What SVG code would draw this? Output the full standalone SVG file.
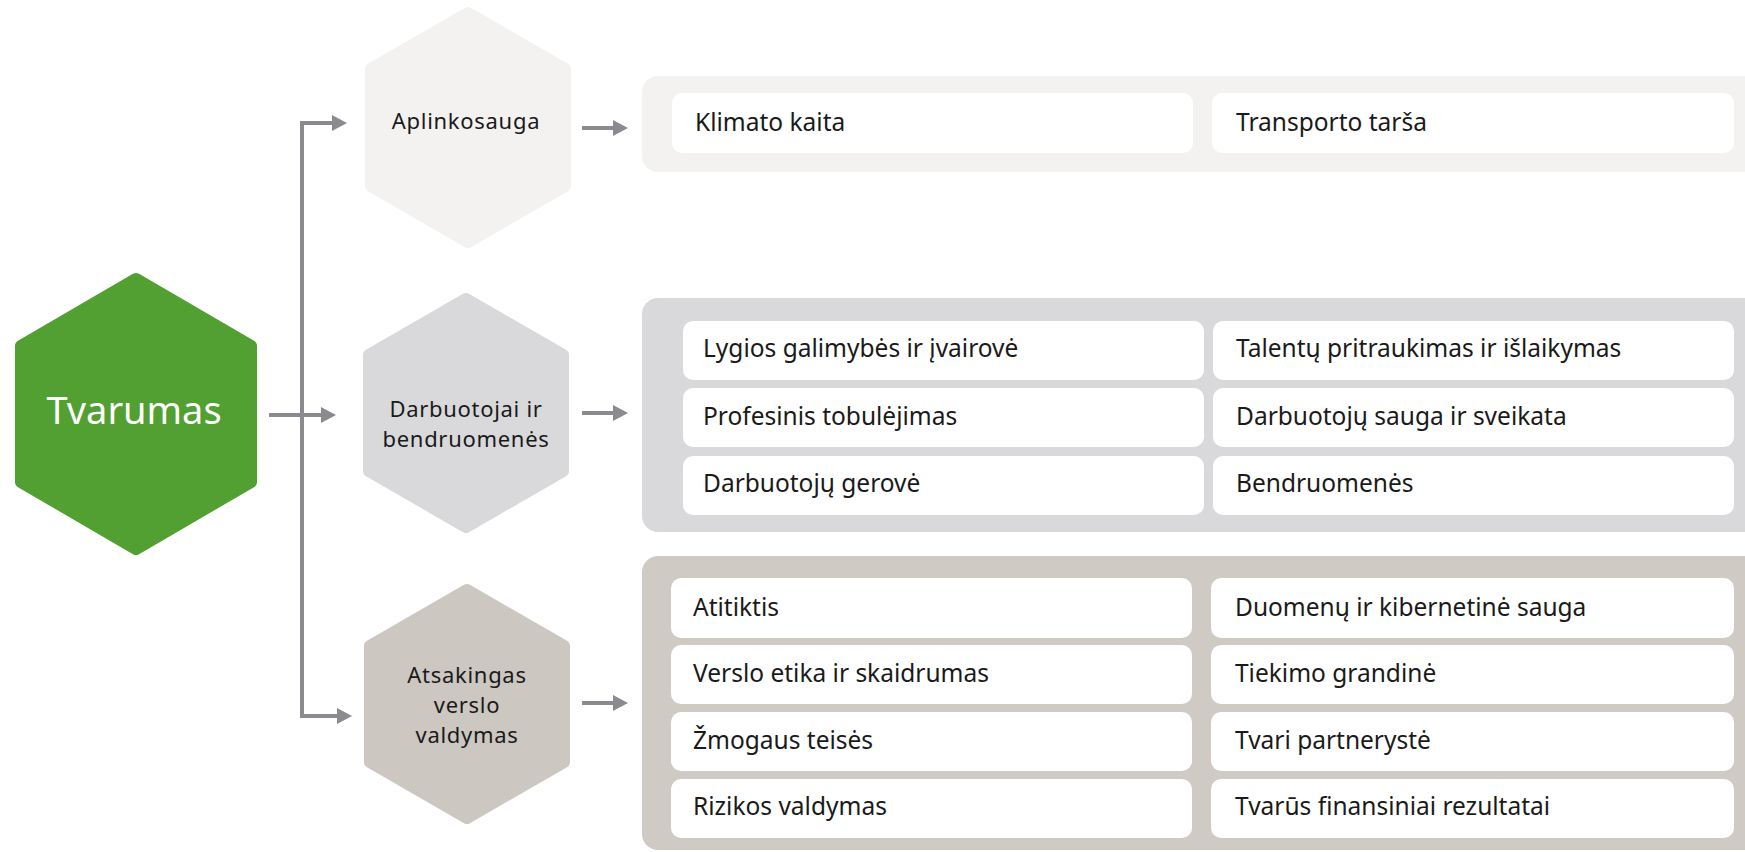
<svg xmlns="http://www.w3.org/2000/svg" width="1745" height="852" viewBox="0 0 1745 852">
<style>
.hex{stroke-width:12;stroke-linejoin:round}
.h1{fill:#f3f2f1;stroke:#f3f2f1}
.h2{fill:#d9d9db;stroke:#d9d9db}
.h3{fill:#ccc7c1;stroke:#ccc7c1}
.hg{fill:#52a032;stroke:#52a032}
.lbl{font-family:"Noto Sans","Liberation Sans",sans-serif;font-size:22px;letter-spacing:0.7px;fill:#1a1a1a;text-anchor:middle}
.main{font-family:"Noto Sans","Liberation Sans",sans-serif;font-size:38px;fill:#ffffff;text-anchor:middle}
.item{font-family:"Noto Sans","Liberation Sans",sans-serif;font-size:24.5px;fill:#1a1a1a}
.box{fill:#ffffff}
.conn{fill:none;stroke:#8b8a8f;stroke-width:4;stroke-linejoin:miter}
</style>
<defs>
<marker id="arr" markerUnits="userSpaceOnUse" markerWidth="16" markerHeight="16" refX="5" refY="8" orient="auto">
<path d="M0,0 L15,8 L0,16 z" fill="#8b8a8f"/>
</marker>
</defs>

<g id="connectors">
<path class="conn" d="M302,419 V123 H337" marker-end="url(#arr)"/>
<path class="conn" d="M302,410 V716 H342" marker-end="url(#arr)"/>
<path class="conn" d="M269,415 H326" marker-end="url(#arr)"/>
<path class="conn" d="M582,128 H618" marker-end="url(#arr)"/>
<path class="conn" d="M582,413 H618" marker-end="url(#arr)"/>
<path class="conn" d="M582,703 H618" marker-end="url(#arr)"/>
</g>

<g id="tvarumas">
<polygon class="hex hg" points="136,279 251,346 251,482 136,549 21,482 21,346"/>
<text class="main" x="134" y="424">Tvarumas</text>
</g>

<g id="aplinkosauga">
<polygon class="hex h1" points="468,13 565,69 565,186 468,242 371,186 371,69"/>
<text class="lbl" x="466" y="129">Aplinkosauga</text>
</g>

<g id="darbuotojai">
<polygon class="hex h2" points="466,299 563,355 563,471 466,527 369,471 369,355"/>
<text class="lbl" x="466" y="417">Darbuotojai ir</text>
<text class="lbl" x="466" y="447">bendruomenės</text>
</g>

<g id="atsakingas">
<polygon class="hex h3" points="467,590 564,646 564,762 467,818 370,762 370,646"/>
<text class="lbl" x="467" y="683">Atsakingas</text>
<text class="lbl" x="467" y="713">verslo</text>
<text class="lbl" x="467" y="743">valdymas</text>
</g>

<g id="panel-aplinkosauga">
<rect x="642" y="76" width="1130" height="96" rx="16" fill="#f3f2f1"/>
<g id="klimato-kaita"><rect class="box" x="672" y="93" width="521" height="60" rx="10"/><text class="item" x="695" y="131">Klimato kaita</text></g>
<g id="transporto-tarsa"><rect class="box" x="1212" y="93" width="522" height="60" rx="10"/><text class="item" x="1236" y="131">Transporto tarša</text></g>
</g>

<g id="panel-darbuotojai">
<rect x="642" y="298" width="1130" height="234" rx="16" fill="#d9d9db"/>
<g id="lygios"><rect class="box" x="683" y="321" width="521" height="59" rx="10"/><text class="item" x="703" y="357">Lygios galimybės ir įvairovė</text></g>
<g id="profesinis"><rect class="box" x="683" y="388" width="521" height="59" rx="10"/><text class="item" x="703" y="425">Profesinis tobulėjimas</text></g>
<g id="gerove"><rect class="box" x="683" y="456" width="521" height="59" rx="10"/><text class="item" x="703" y="492">Darbuotojų gerovė</text></g>
<g id="talentu"><rect class="box" x="1213" y="321" width="521" height="59" rx="10"/><text class="item" x="1236" y="357">Talentų pritraukimas ir išlaikymas</text></g>
<g id="sauga"><rect class="box" x="1213" y="388" width="521" height="59" rx="10"/><text class="item" x="1236" y="425">Darbuotojų sauga ir sveikata</text></g>
<g id="bendruomenes"><rect class="box" x="1213" y="456" width="521" height="59" rx="10"/><text class="item" x="1236" y="492">Bendruomenės</text></g>
</g>

<g id="panel-atsakingas">
<rect x="642" y="556" width="1130" height="294" rx="16" fill="#cfcac4"/>
<g id="atitiktis"><rect class="box" x="671" y="578" width="521" height="60" rx="10"/><text class="item" x="693" y="616">Atitiktis</text></g>
<g id="etika"><rect class="box" x="671" y="645" width="521" height="59" rx="10"/><text class="item" x="693" y="682">Verslo etika ir skaidrumas</text></g>
<g id="zmogaus"><rect class="box" x="671" y="712" width="521" height="59" rx="10"/><text class="item" x="693" y="749">Žmogaus teisės</text></g>
<g id="rizikos"><rect class="box" x="671" y="779" width="521" height="59" rx="10"/><text class="item" x="693" y="815">Rizikos valdymas</text></g>
<g id="duomenu"><rect class="box" x="1211" y="578" width="523" height="60" rx="10"/><text class="item" x="1235" y="616">Duomenų ir kibernetinė sauga</text></g>
<g id="tiekimo"><rect class="box" x="1211" y="645" width="523" height="59" rx="10"/><text class="item" x="1235" y="682">Tiekimo grandinė</text></g>
<g id="partneryste"><rect class="box" x="1211" y="712" width="523" height="59" rx="10"/><text class="item" x="1235" y="749">Tvari partnerystė</text></g>
<g id="finansiniai"><rect class="box" x="1211" y="779" width="523" height="59" rx="10"/><text class="item" x="1235" y="815">Tvarūs finansiniai rezultatai</text></g>
</g>
</svg>
